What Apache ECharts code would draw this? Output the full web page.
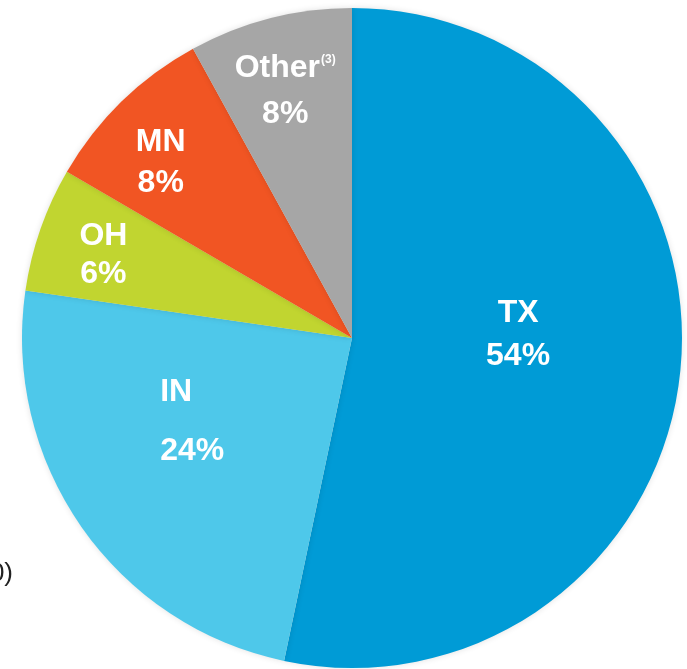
<!DOCTYPE html>
<html>
<head>
<meta charset="utf-8">
<script src="https://cdn.jsdelivr.net/npm/echarts@6/dist/echarts.min.js"></script>
<style>
  html, body { margin: 0; padding: 0; background: #fff; }
  #chart { width: 687px; height: 669px; }
</style>
</head>
<body>
<div id="chart"></div>
<script>
// slice shares, labels as printed
const states = ['TX', 'IN', 'OH', 'MN', 'Other'];
const shares = [53.3, 24, 6.1, 8.6, 8];
const pctLabels = ['54%', '24%', '6%', '8%', '8%'];
const colors = ['#009bd6', '#4ec8ea', '#c1d530', '#f15523', '#a6a6a6'];

// per-slice label nudges so text sits where the original puts it
const labelOffsets = [[-1, -21], [-22, -12], [-90, -27], [-74, -55], [-25, -84]];
const lineHeights = [43, 59, 38, 41, 46];

const chart = echarts.init(document.getElementById('chart'));

const data = states.map((s, i) => {
  const name = s === 'Other' ? '{n|Other}{sup|(3)}' : '{n|' + s + '}';
  const lh = lineHeights[i];
  const alignLeft = s === 'IN';
  return {
    name: s,
    value: shares[i],
    itemStyle: { color: colors[i] },
    label: {
      formatter: name + '\n{p|' + pctLabels[i] + '}',
      offset: labelOffsets[i],
      rich: {
        n: { fontSize: 32, fontWeight: 'bold', color: '#fff', lineHeight: lh, align: alignLeft ? 'left' : 'center', fontFamily: 'Liberation Sans, Arial' },
        sup: { fontSize: 12, fontWeight: 'bold', color: '#fff', verticalAlign: 'middle', padding: [0, 0, 18, 1], fontFamily: 'Liberation Sans, Arial' },
        p: { fontSize: 32, fontWeight: 'bold', color: '#fff', lineHeight: lh, align: alignLeft ? 'left' : 'center', fontFamily: 'Liberation Sans, Arial' }
      }
    }
  };
});

const option = {
  animation: false,
  backgroundColor: '#fff',
  graphic: [{
    type: 'text',
    right: 674,
    top: 561,
    style: { text: '0)', fontSize: 26, fill: '#222', fontFamily: 'Liberation Sans, Arial' }
  }],
  series: [
    {
      type: 'pie',
      center: [352, 338],
      radius: 330,
      startAngle: 90,
      clockwise: true,
      data: data,
      label: { show: true, position: 'inside' },
      labelLine: { show: false },
      itemStyle: { borderWidth: 0, shadowBlur: 6, shadowColor: 'rgba(0,0,0,0.12)' },
      emphasis: { disabled: true }
    }
  ]
};

option && chart.setOption(option);
</script>
</body>
</html>
